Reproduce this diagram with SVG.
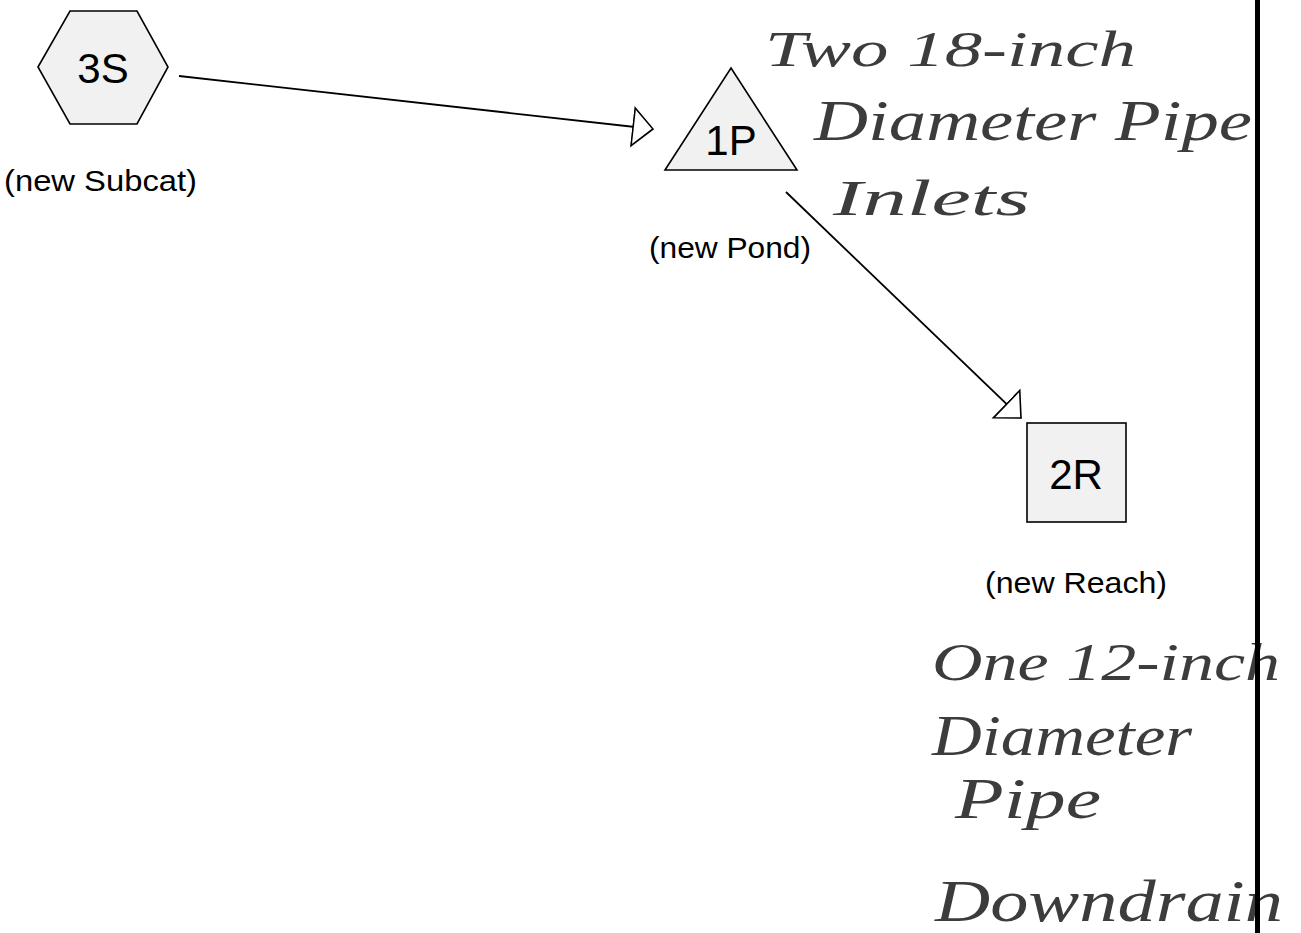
<svg xmlns="http://www.w3.org/2000/svg" width="1301" height="933" viewBox="0 0 1301 933">
<style>
.node{fill:#f1f1f1;stroke:#000;stroke-width:1.6}
.lbl{font-family:"Liberation Sans",Arial,sans-serif;font-size:42px;fill:#000;text-anchor:middle}
.sub{font-family:"Liberation Sans",Arial,sans-serif;font-size:29px;fill:#000}
.hand{font-family:"Liberation Serif","DejaVu Serif",serif;font-style:italic;fill:#3c3c3c}
.edge{stroke:#000;stroke-width:1.8;fill:none}
</style>
<defs>
<marker id="arr" viewBox="-1 -21 23 42" refX="20" refY="0" markerWidth="23" markerHeight="42" markerUnits="userSpaceOnUse" orient="auto">
<path d="M0,-19 L20,0 L0,19 Z" fill="#fff" stroke="#000" stroke-width="1.6"/>
</marker>
</defs>
<rect width="1301" height="933" fill="#fff"/>
<g id="connectors">
<line class="edge" x1="179" y1="76" x2="653" y2="129" marker-end="url(#arr)"/>
<line class="edge" x1="786" y1="192" x2="1021" y2="418" marker-end="url(#arr)"/>
</g>
<g id="node-3S">
<polygon class="node" points="38,67 70,11 137,11 168,67 137,124 70,124"/>
<text class="lbl" x="103" y="83">3S</text>
<text class="sub" x="4" y="191" textLength="193" lengthAdjust="spacingAndGlyphs">(new Subcat)</text>
</g>
<g id="node-1P">
<polygon class="node" points="731,68 797,170 665,170"/>
<text class="lbl" x="731" y="155">1P</text>
<text class="sub" x="649" y="258" textLength="162" lengthAdjust="spacingAndGlyphs">(new Pond)</text>
</g>
<g id="node-2R">
<rect class="node" x="1027" y="423" width="99" height="99"/>
<text class="lbl" x="1076" y="489">2R</text>
<text class="sub" x="985" y="593" textLength="182" lengthAdjust="spacingAndGlyphs">(new Reach)</text>
</g>
<g id="notes">
<text class="hand" x="765" y="66" font-size="50" textLength="371" lengthAdjust="spacingAndGlyphs">Two 18-inch</text>
<text class="hand" x="814" y="140" font-size="58" textLength="438" lengthAdjust="spacingAndGlyphs">Diameter Pipe</text>
<text class="hand" x="833" y="215" font-size="50" textLength="197" lengthAdjust="spacingAndGlyphs">Inlets</text>
<text class="hand" x="932" y="680" font-size="52" textLength="348" lengthAdjust="spacingAndGlyphs">One 12-inch</text>
<text class="hand" x="932" y="755" font-size="56" textLength="260" lengthAdjust="spacingAndGlyphs">Diameter</text>
<text class="hand" x="955" y="818" font-size="56" textLength="146" lengthAdjust="spacingAndGlyphs">Pipe</text>
<text class="hand" x="935" y="921" font-size="60" textLength="348" lengthAdjust="spacingAndGlyphs">Downdrain</text>
</g>
<rect id="border" x="1255" y="0" width="5" height="933" fill="#000"/>
</svg>
